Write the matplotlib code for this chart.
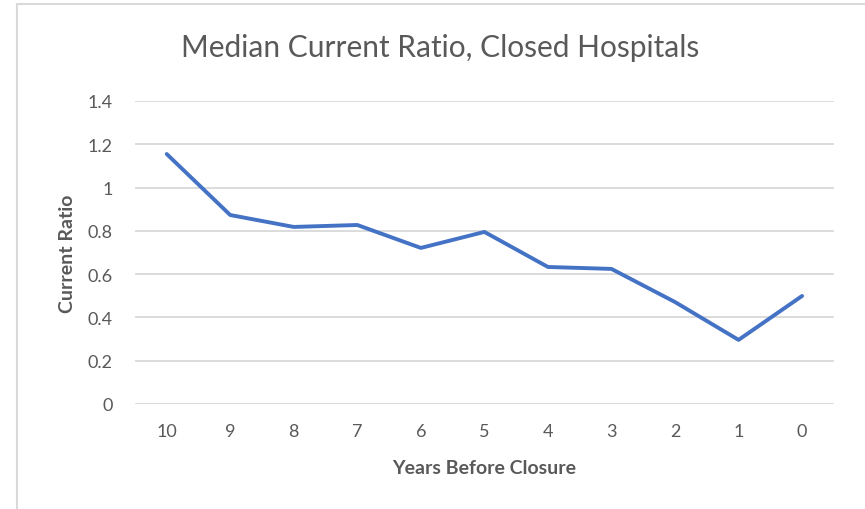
import matplotlib.pyplot as plt
from matplotlib.lines import Line2D

years = ['10', '9', '8', '7', '6', '5', '4', '3', '2', '1', '0']
ratio = [1.155, 0.873, 0.818, 0.827, 0.721, 0.795, 0.633, 0.624, 0.471, 0.296, 0.499]
yticks = [0, 0.2, 0.4, 0.6, 0.8, 1, 1.2, 1.4]
ytick_labels = ['0', '0.2', '0.4', '0.6', '0.8', '1', '1.2', '1.4']

plt.rcParams['font.family'] = ['Lato', 'DejaVu Sans']
grey = '#595959'

fig = plt.figure(figsize=(8.65, 5.10), dpi=100)
ax = fig.add_axes([0.156, 0.206, 0.808, 0.594])

x = range(len(years))
ax.plot(x, ratio, color='#4472C4', linewidth=2.8, solid_capstyle='round', solid_joinstyle='round')

ax.set_xlim(-0.5, len(years) - 0.5)
ax.set_ylim(0, 1.4)
ax.set_xticks(list(x))
ax.set_xticklabels(years)
ax.set_yticks(yticks)
ax.set_yticklabels(ytick_labels)
ax.tick_params(length=0, labelsize=13, colors=grey)
ax.tick_params(axis='x', pad=14)
ax.tick_params(axis='y', pad=16)
ax.grid(axis='y', color='#D9D9D9', linewidth=1.3)
ax.set_axisbelow(True)
for s in ax.spines.values():
    s.set_visible(False)

ax.set_xlabel('Years Before Closure', fontsize=14, fontweight='bold', color=grey, labelpad=14)
ax.set_ylabel('Current Ratio', fontsize=14, fontweight='bold', color=grey, labelpad=8)
fig.text(0.509, 0.905, 'Median Current Ratio, Closed Hospitals', fontsize=21.5,
         color=grey, ha='center', va='center')

# chart frame edges
fig.add_artist(Line2D([17 / 865, 17 / 865], [0, 1 - 5 / 510], transform=fig.transFigure,
                      color='#D9D9D9', linewidth=1.5))
fig.add_artist(Line2D([17 / 865, 1], [1 - 5 / 510, 1 - 5 / 510], transform=fig.transFigure,
                      color='#D9D9D9', linewidth=1.5))

fig.savefig('out.png', dpi=100)
